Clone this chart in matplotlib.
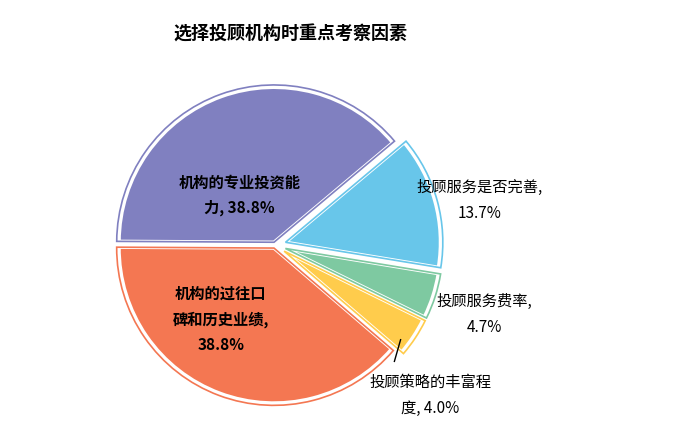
import matplotlib
matplotlib.use('Agg')
import matplotlib.pyplot as plt

plt.rcParams['font.family'] = ['Noto Sans CJK SC', 'DejaVu Sans']

labels = ['机构的专业投资能\n力, 38.8%', '机构的过往口\n碑和历史业绩,\n38.8%',
          '投顾策略的丰富程\n度, 4.0%', '投顾服务费率,\n4.7%', '投顾服务是否完善,\n13.7%']
values = [38.8, 38.8, 4.0, 4.7, 13.7]
colors = ['#8080c0', '#f47752', '#ffcc4c', '#7ec9a1', '#68c6ea']
explode = [0.02, 0.02, 0.07, 0.07, 0.07]

fig = plt.figure(figsize=(6.75, 4.32), dpi=100)
ax = fig.add_axes([0.132, 0.002, 0.551, 0.861])

ax.pie(values, colors=colors, explode=explode, startangle=40, counterclock=True,
       wedgeprops=dict(edgecolor='white', linewidth=2.5))
ax.pie(values, colors=colors, explode=explode, startangle=40, counterclock=True, radius=1.015,
       wedgeprops=dict(facecolor='none', linewidth=1.2, edgecolor='none'))
for w, c in zip(ax.patches[len(values):], colors):
    w.set_edgecolor(c)

ax.set_xlim(-1.2, 1.2)
ax.set_ylim(-1.2, 1.2)
ax.set_aspect('equal')

ax.text(-0.23, 0.32, labels[0], ha='center', va='center', fontsize=11, fontweight='bold', linespacing=1.7)
ax.text(-0.35, -0.48, labels[1], ha='center', va='center', fontsize=11, fontweight='bold', linespacing=1.7)
ax.text(1.32, 0.29, labels[4], ha='center', va='center', fontsize=11, linespacing=1.7)
ax.text(1.35, -0.45, labels[3], ha='center', va='center', fontsize=11, linespacing=1.7)
ax.text(1.0, -0.97, labels[2], ha='center', va='center', fontsize=11, linespacing=1.7)
ax.plot([0.81, 0.77], [-0.61, -0.75], color='black', linewidth=1)

fig.text(0.43, 0.92, '选择投顾机构时重点考察因素', ha='center', va='center',
         fontsize=13, fontweight='bold')

fig.savefig('out.png', dpi=100)
